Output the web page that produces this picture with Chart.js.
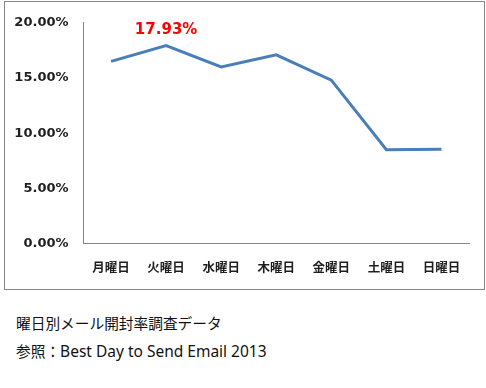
<!DOCTYPE html>
<html>
<head>
<meta charset="utf-8">
<script src="https://cdn.jsdelivr.net/npm/chart.js@4"></script>
<style>
  body { margin: 0; background: #fff; }
  .frame {
    position: absolute; left: 4px; top: 1px; width: 481px; height: 289px;
    box-sizing: border-box; border: 1px solid #868686;
  }
  .chart-wrap { position: absolute; left: 0; top: 0; width: 486px; height: 290px; }
  .caption {
    position: absolute; left: 16px; font-family: "Noto Sans", "Noto Sans CJK JP", sans-serif;
    font-size: 14.7px; color: #111; white-space: nowrap; line-height: 20px;
  }
  .caption .latin { font-size: 15.5px; }
</style>
</head>
<body>
<div class="frame"></div>
<div class="chart-wrap"><canvas id="chart"></canvas></div>
<div class="caption" style="top:313px">曜日別メール開封率調査データ</div>
<div class="caption" style="top:341px">参照：<span class="latin">Best Day to Send Email 2013</span></div>
<script>
const days = ["月曜日", "火曜日", "水曜日", "木曜日", "金曜日", "土曜日", "日曜日"];
const openRates = [16.5, 17.93, 16.0, 17.1, 14.8, 8.5, 8.55];
const yTicks = [0, 5, 10, 15, 20];

const axisColor = "#868686";
const textColor = "#1e1e1e";

// label above the highest point
const peakLabel = {
  id: "peakLabel",
  afterDatasetsDraw(chart) {
    const values = chart.data.datasets[0].data;
    const idx = values.indexOf(Math.max(...values));
    const pt = chart.getDatasetMeta(0).data[idx];
    const ctx = chart.ctx;
    ctx.save();
    ctx.font = "bold 15px 'DejaVu Sans'";
    ctx.fillStyle = "#ff0000";
    ctx.textAlign = "center";
    ctx.textBaseline = "middle";
    ctx.fillText(values[idx].toFixed(2) + "%", pt.x, pt.y - 16);
    ctx.restore();
  },
};

new Chart(document.getElementById("chart"), {
  type: "line",
  data: {
    labels: days,
    datasets: [
      {
        data: openRates,
        borderColor: "#4a7ebb",
        borderWidth: 3,
        pointRadius: 0,
        tension: 0,
        fill: false,
      },
    ],
  },
  options: {
    responsive: true,
    maintainAspectRatio: false,
    animation: false,
    layout: { padding: { top: 19.5, right: 17, bottom: 0, left: 0 } },
    plugins: { legend: { display: false }, tooltip: { enabled: false } },
    scales: {
      x: {
        offset: true,
        grid: { display: false, drawTicks: false },
        border: { display: true, color: axisColor, width: 1 },
        ticks: {
          padding: 16,
          color: textColor,
          font: { family: "'Noto Sans CJK JP'", size: 12.5, weight: "bold" },
          maxRotation: 0,
        },
        afterFit: (s) => { s.height = 46.5; },
      },
      y: {
        min: 0,
        max: 20,
        grid: { display: false, drawTicks: false },
        border: { display: true, color: axisColor, width: 1 },
        afterBuildTicks: (s) => { s.ticks = yTicks.map((v) => ({ value: v })); },
        ticks: {
          padding: 15,
          color: textColor,
          font: { family: "'DejaVu Sans'", size: 13, weight: "bold" },
          callback: (v) => v.toFixed(2) + "%",
        },
        afterFit: (s) => { s.width = 83.5; },
      },
    },
  },
  plugins: [peakLabel],
});
</script>
</body>
</html>
